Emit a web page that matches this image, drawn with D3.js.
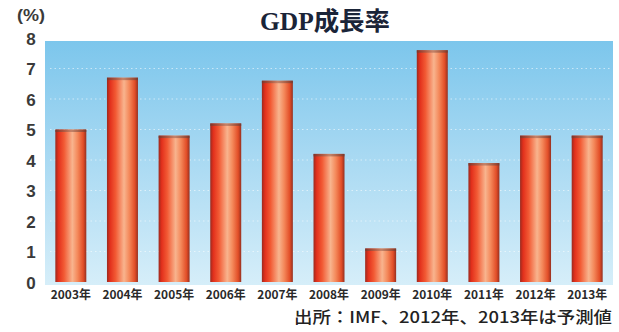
<!DOCTYPE html>
<html>
<head>
<meta charset="utf-8">
<script src="https://cdn.jsdelivr.net/npm/d3@7"></script>
<style>
  html, body { margin: 0; padding: 0; background: #ffffff; }
  svg { display: block; }
</style>
</head>
<body>
<svg id="chart" width="619" height="332"></svg>
<script>
// Real GDP growth (%), 2012 and 2013 are IMF forecasts
const years = ["2003年", "2004年", "2005年", "2006年", "2007年", "2008年",
               "2009年", "2010年", "2011年", "2012年", "2013年"];
const growth = [5.0, 6.7, 4.8, 5.2, 6.6, 4.2, 1.1, 7.6, 3.9, 4.8, 4.8];
const yTicks = [0, 1, 2, 3, 4, 5, 6, 7, 8];
const titleText = "GDP成長率";
const unitText = "(%)";
const sourceText = "出所：IMF、2012年、2013年は予測値";

const svg = d3.select("#chart");

const x = d3.scaleBand().domain(years).range([45, 613]).paddingInner(0.4).paddingOuter(0.2);
const y = d3.scaleLinear().domain([0, 8]).range([282, 38]);

const defs = svg.append("defs");

// sky-blue plot background
const bg = defs.append("linearGradient").attr("id", "bg")
  .attr("x1", 0).attr("y1", 0).attr("x2", 0).attr("y2", 1);
bg.append("stop").attr("offset", "0%").attr("stop-color", "#7cc6ec");
bg.append("stop").attr("offset", "45%").attr("stop-color", "#a6d8f2");
bg.append("stop").attr("offset", "100%").attr("stop-color", "#d6eef9");

// cylindrical shading across each bar
const bar = defs.append("linearGradient").attr("id", "bar")
  .attr("x1", 0).attr("y1", 0).attr("x2", 1).attr("y2", 0);
[["0%", "#9c2a1e"], ["10%", "#e2301c"], ["28%", "#f25a34"], ["55%", "#f8b48e"],
 ["72%", "#f4885a"], ["90%", "#e24e28"], ["100%", "#963020"]]
  .forEach(([o, c]) => bar.append("stop").attr("offset", o).attr("stop-color", c));

const cap = defs.append("linearGradient").attr("id", "cap")
  .attr("x1", 0).attr("y1", 0).attr("x2", 1).attr("y2", 0);
[["0%", "#6a3a30"], ["50%", "#b0705a"], ["100%", "#6a3a30"]]
  .forEach(([o, c]) => cap.append("stop").attr("offset", o).attr("stop-color", c));

// plot area
svg.append("rect")
  .attr("x", 45).attr("y", y(8) + 3)
  .attr("width", 568).attr("height", y(0) - y(8))
  .attr("fill", "url(#bg)");

// dotted white grid lines
svg.append("g").selectAll("line")
  .data(yTicks.filter(d => d > 0 && d < 8))
  .join("line")
  .attr("x1", 50).attr("x2", 610)
  .attr("y1", d => y(d)).attr("y2", d => y(d))
  .attr("stroke", "#ffffff").attr("stroke-opacity", 0.55)
  .attr("stroke-width", 1.2)
  .attr("stroke-dasharray", "1.5,3");

// bars
const barData = years.map((yr, i) => ({ yr, v: growth[i] }));
const bars = svg.append("g");
bars.selectAll("rect.b")
  .data(barData)
  .join("rect").attr("class", "b")
  .attr("x", d => x(d.yr))
  .attr("y", d => y(d.v))
  .attr("width", x.bandwidth())
  .attr("height", d => y(0) - y(d.v))
  .attr("fill", "url(#bar)");
bars.selectAll("rect.c")
  .data(barData)
  .join("rect").attr("class", "c")
  .attr("x", d => x(d.yr))
  .attr("y", d => y(d.v))
  .attr("width", x.bandwidth())
  .attr("height", 2.5)
  .attr("fill", "url(#cap)").attr("opacity", 0.7);

// y axis labels
const yAxis = d3.axisLeft(y).tickValues(yTicks).tickSize(0).tickPadding(0);
const gy = svg.append("g").attr("transform", "translate(31,0)").call(yAxis);
gy.select(".domain").remove();
gy.selectAll("text")
  .attr("text-anchor", "middle")
  .attr("dy", "0.36em")
  .attr("font-family", "'Liberation Sans', Arial, sans-serif")
  .attr("font-size", 17).attr("font-weight", "bold")
  .attr("fill", "#3a3a3a");

// x axis labels
const xAxis = d3.axisBottom(x).tickSize(0).tickPadding(0);
const gx = svg.append("g").attr("transform", "translate(0,290)").call(xAxis);
gx.select(".domain").remove();
gx.selectAll("text")
  .attr("dy", "0.71em")
  .attr("font-family", "'Liberation Sans Narrow', 'Noto Sans CJK JP', sans-serif")
  .attr("font-size", 12).attr("font-weight", "bold")
  .attr("fill", "#2a2a2a")
  .attr("textLength", 40).attr("lengthAdjust", "spacingAndGlyphs");

// unit label
svg.append("text")
  .attr("x", 31).attr("y", 21)
  .attr("text-anchor", "middle")
  .attr("font-family", "'Liberation Sans', Arial, sans-serif")
  .attr("font-size", 17).attr("font-weight", "bold")
  .attr("fill", "#3a3a3a")
  .attr("textLength", 28).attr("lengthAdjust", "spacingAndGlyphs")
  .text(unitText);

// title
svg.append("text")
  .attr("x", 325).attr("y", 30)
  .attr("text-anchor", "middle")
  .attr("font-family", "'Liberation Serif', 'DejaVu Serif', 'Noto Sans CJK JP', serif")
  .attr("font-size", 25).attr("font-weight", "bold")
  .attr("fill", "#1a2438")
  .attr("textLength", 130).attr("lengthAdjust", "spacingAndGlyphs")
  .text(titleText);

// source note
svg.append("text")
  .attr("x", 612).attr("y", 323)
  .attr("text-anchor", "end")
  .attr("font-family", "'Noto Sans CJK JP', sans-serif")
  .attr("font-size", 16).attr("font-weight", 500)
  .attr("fill", "#222222")
  .attr("textLength", 318).attr("lengthAdjust", "spacingAndGlyphs")
  .text(sourceText);
</script>
</body>
</html>
